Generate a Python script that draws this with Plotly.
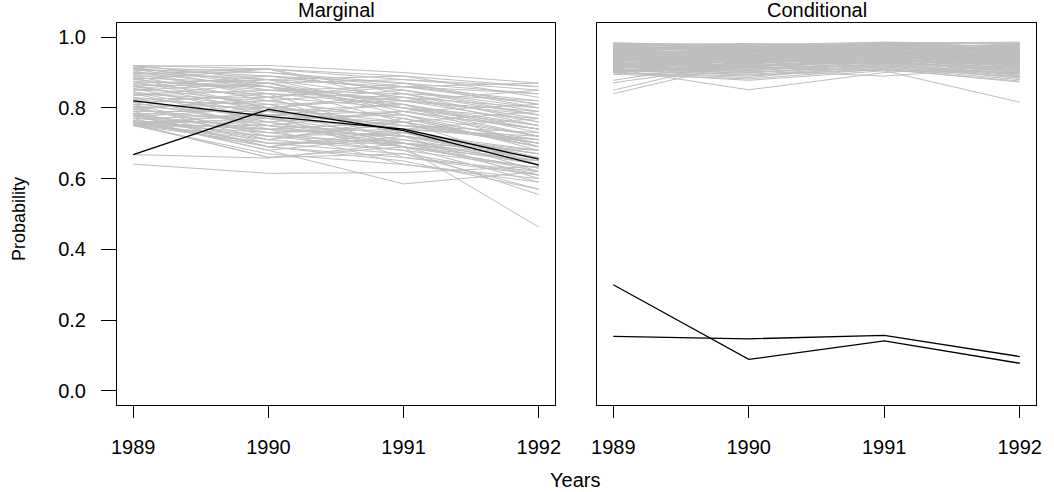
import plotly.graph_objects as go

years = [1989, 1990, 1991, 1992]

# ---- Marginal panel: gray trajectories, one value per line in each list ----
marg_1989 = [.920, .920, .918, .915, .912, .910, .910, .905, .900, .900, .898, .895, .890, .890, .885,
             .880, .880, .875, .870, .870, .865, .860, .860, .855, .850, .850, .845, .840, .840, .835,
             .830, .830, .825, .820, .820, .815, .810, .810, .805, .800, .800, .795, .790, .790, .785,
             .780, .780, .775, .770, .770, .765, .760, .760, .755, .750, .750, .758, .752, .755, .750,
             .760, .755, .750, .770, .780, .750, .668, .760, .641,
             .915, .905, .895, .885, .875, .865, .855, .845, .835, .825, .815, .805, .795, .785, .775,
             .765, .758, .752, .780, .760]
marg_1990 = [.910, .880, .920, .900, .870, .890, .850, .910, .880, .860, .900, .840, .890, .820, .870,
             .910, .850, .800, .880, .830, .860, .810, .890, .780, .840, .870, .800, .820, .760, .850,
             .790, .740, .830, .770, .810, .750, .800, .720, .780, .820, .730, .760, .790, .700, .770,
             .740, .810, .710, .750, .780, .720, .690, .760, .730, .790, .700, .740, .660, .770, .720,
             .690, .660, .750, .680, .730, .670, .658, .700, .615,
             .860, .830, .910, .800, .860, .790, .880, .770, .870, .750, .840, .710, .830, .690, .800,
             .680, .780, .710, .690, .740]
marg_1991 = [.890, .860, .900, .870, .880, .850, .840, .880, .890, .820, .860, .830, .870, .850, .810,
             .840, .860, .780, .830, .870, .800, .820, .850, .760, .810, .790, .840, .770, .790, .820,
             .750, .720, .800, .780, .740, .730, .760, .700, .810, .770, .740, .690, .750, .710, .720,
             .760, .730, .680, .700, .790, .730, .660, .710, .750, .740, .670, .720, .690, .700, .680,
             .730, .670, .690, .585, .690, .640, .700, .700, .617,
             .800, .860, .820, .830, .760, .810, .800, .740, .780, .790, .720, .760, .700, .740, .690,
             .720, .660, .770, .650, .640]
marg_1992 = [.860, .820, .870, .840, .850, .800, .780, .860, .830, .760, .870, .800, .810, .790, .740,
             .820, .840, .720, .770, .800, .750, .850, .780, .700, .730, .810, .760, .690, .740, .790,
             .710, .660, .720, .680, .770, .670, .700, .640, .750, .710, .620, .650, .730, .660, .600,
             .690, .680, .630, .610, .720, .670, .620, .640, .700, .660, .570, .650, .630, .680, .555,
             .640, .610, .630, .620, .463, .600, .620, .650, .635,
             .770, .810, .780, .750, .790, .690, .740, .720, .700, .740, .680, .640, .660, .710, .590,
             .670, .610, .690, .570, .590]

# ---- Marginal panel: black lines ----
marg_black_a = [0.820, 0.776, 0.740, 0.655]
marg_black_b = [0.668, 0.796, 0.736, 0.638]

# ---- Conditional panel: gray trajectories ----
cond_1989 = [.984, .980, .978, .975, .972, .970, .968, .965, .962, .960, .958, .955, .953, .950, .948,
             .945, .943, .940, .938, .935, .933, .930, .928, .925, .922, .920, .918, .915, .912, .910,
             .908, .905, .902, .900, .976, .966, .956, .946, .936, .926, .916, .906, .974, .964, .952,
             .942, .932, .924, .914, .904, .982, .969, .957, .944, .934, .921, .911, .901, .878, .871,
             .850, .840, .910, .920, .930, .900, .895,
             .983, .979, .973, .967, .961, .959, .954, .949, .941, .937, .931, .927, .923, .917, .913,
             .907, .903, .977, .963, .951, .939, .929, .919, .909, .899, .981, .971, .947, .933, .905]
cond_1990 = [.975, .972, .968, .978, .960, .965, .970, .955, .974, .950, .962, .945, .968, .940, .958,
             .935, .952, .930, .948, .925, .944, .920, .940, .915, .936, .910, .930, .905, .926, .900,
             .922, .895, .918, .890, .962, .948, .938, .928, .918, .912, .902, .893, .980, .976, .966,
             .956, .946, .942, .934, .928, .965, .958, .942, .932, .952, .946, .938, .914, .935, .925,
             .940, .930, .851, .905, .915, .878, .882,
             .978, .982, .966, .974, .970, .956, .964, .960, .950, .954, .948, .938, .944, .924, .932,
             .916, .908, .957, .944, .936, .926, .918, .906, .898, .886, .971, .963, .969, .959, .920]
cond_1991 = [.980, .985, .976, .982, .970, .979, .974, .968, .972, .962, .984, .958, .966, .955, .975,
             .950, .962, .945, .968, .940, .958, .936, .952, .932, .948, .928, .944, .924, .940, .920,
             .936, .916, .930, .912, .958, .954, .946, .938, .930, .922, .914, .908, .970, .964, .980,
             .972, .964, .960, .956, .950, .962, .947, .960, .952, .942, .934, .926, .918, .945, .950,
             .955, .935, .900, .890, .905, .905, .910,
             .986, .978, .983, .969, .981, .977, .971, .967, .963, .973, .959, .969, .953, .957, .949,
             .943, .939, .965, .957, .951, .944, .937, .931, .927, .921, .975, .966, .961, .947, .933]
cond_1992 = [.975, .982, .970, .984, .962, .955, .978, .950, .965, .940, .972, .935, .958, .930, .968,
             .925, .948, .920, .960, .915, .945, .910, .938, .905, .930, .900, .925, .895, .920, .890,
             .912, .885, .905, .880, .946, .938, .928, .918, .908, .898, .888, .876, .980, .976, .974,
             .966, .962, .952, .944, .936, .952, .942, .956, .928, .934, .922, .914, .896, .940, .935,
             .950, .925, .920, .915, .816, .900, .873,
             .980, .968, .986, .972, .958, .976, .948, .970, .944, .962, .954, .958, .942, .946, .932,
             .926, .918, .960, .938, .932, .921, .912, .902, .892, .884, .964, .954, .946, .924, .906]

# ---- Conditional panel: black lines ----
cond_black_a = [0.300, 0.089, 0.141, 0.078]
cond_black_b = [0.154, 0.147, 0.157, 0.097]

y_ticks = [0.0, 0.2, 0.4, 0.6, 0.8, 1.0]
panel_titles = ["Marginal", "Conditional"]

GRAY = "#BEBEBE"
FONT = "Liberation Sans, Arial, Helvetica, sans-serif"

fig = go.Figure()


def add_panel(cols, blacks, xa, ya):
    n = len(cols[0])
    for i in range(n):
        fig.add_trace(go.Scatter(
            x=years, y=[c[i] for c in cols], mode="lines",
            line=dict(color=GRAY, width=1), xaxis=xa, yaxis=ya,
            showlegend=False, hoverinfo="skip"))
    for b in blacks:
        fig.add_trace(go.Scatter(
            x=years, y=b, mode="lines",
            line=dict(color="black", width=1.3), xaxis=xa, yaxis=ya,
            showlegend=False))


add_panel([marg_1989, marg_1990, marg_1991, marg_1992], [marg_black_a, marg_black_b], "x", "y")
add_panel([cond_1989, cond_1990, cond_1991, cond_1992], [cond_black_a, cond_black_b], "x2", "y2")

xcommon = dict(range=[1988.88, 1992.12], tickvals=years, ticktext=[str(y) for y in years],
               showline=True, mirror=True, linecolor="black", linewidth=1,
               ticks="outside", ticklen=12, tickcolor="black", tickwidth=1,
               showgrid=False, zeroline=False, ticklabelstandoff=12,
               tickfont=dict(family=FONT, size=20, color="black"))
ycommon = dict(range=[-0.04, 1.04], showline=True, mirror=True, linecolor="black", linewidth=1,
               showgrid=False, zeroline=False)

L0, L1 = 0.0, 438 / 919
R0, R1 = 480 / 919, 1.0

fig.update_layout(
    width=1054, height=492,
    margin=dict(l=117, r=18, t=23, b=87),
    plot_bgcolor="white", paper_bgcolor="white",
    font=dict(family=FONT, size=20, color="black"),
    xaxis=dict(domain=[L0, L1], anchor="y", **xcommon),
    xaxis2=dict(domain=[R0, R1], anchor="y2", **xcommon),
    yaxis=dict(anchor="x", tickvals=y_ticks, ticktext=[f"{v:.1f}" for v in y_ticks],
               ticks="outside", ticklen=15, tickcolor="black", tickwidth=1,
               ticklabelstandoff=11,
               tickfont=dict(family=FONT, size=20, color="black"), **ycommon),
    yaxis2=dict(anchor="x2", showticklabels=False, ticks="", **ycommon),
    annotations=[
        dict(text=panel_titles[0], x=(L0 + L1) / 2, y=1, xref="paper", yref="paper",
             xanchor="center", yanchor="bottom", showarrow=False,
             font=dict(family=FONT, size=20)),
        dict(text=panel_titles[1], x=(R0 + R1) / 2, y=1, xref="paper", yref="paper",
             xanchor="center", yanchor="bottom", showarrow=False,
             font=dict(family=FONT, size=20)),
        dict(text="Years", x=(575 - 117) / 919, y=-75 / 382, xref="paper", yref="paper",
             xanchor="center", yanchor="middle", showarrow=False,
             font=dict(family=FONT, size=20)),
        dict(text="Probability", x=(19 - 117) / 919, y=(405 - 219) / 382, xref="paper", yref="paper",
             xanchor="center", yanchor="middle", textangle=-90, showarrow=False,
             font=dict(family=FONT, size=18)),
    ],
)

# remove the default 8px page margin so the figure fills the window exactly
fig.write_html("out.html", config={"displayModeBar": False},
               post_script="document.body.style.margin='0px';")
